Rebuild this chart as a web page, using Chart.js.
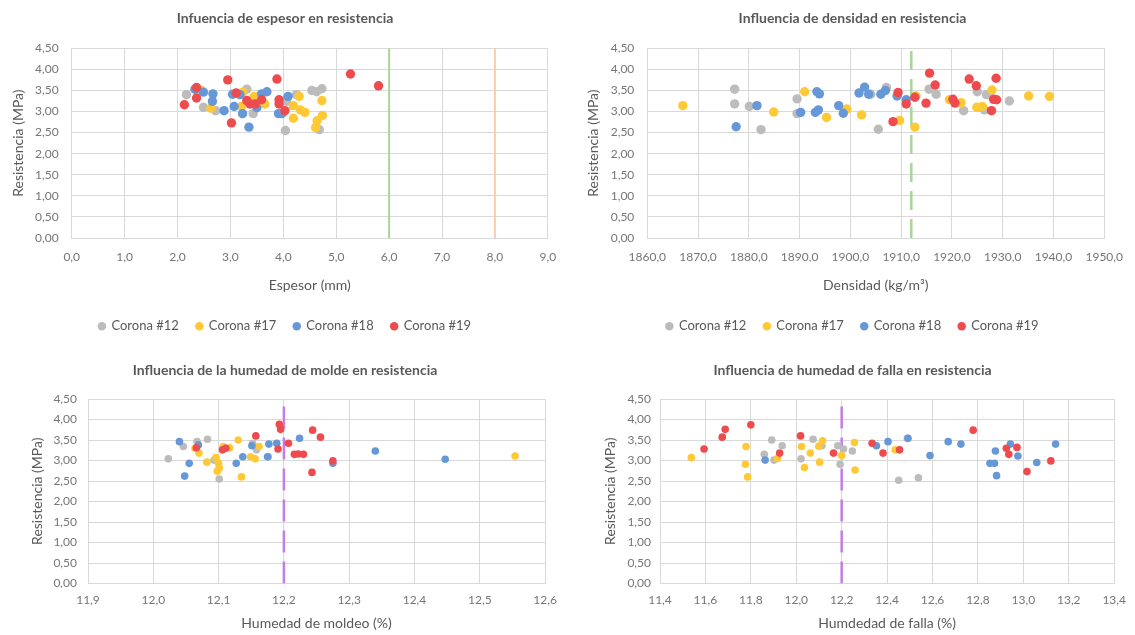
<!DOCTYPE html>
<html lang="es">
<head>
<meta charset="utf-8">
<title>Resistencia de coronas</title>
<script src="https://cdn.jsdelivr.net/npm/chart.js@4.4.1/dist/chart.umd.min.js"></script>
<style>
  html, body { margin: 0; padding: 0; background: #ffffff; }
  body { position: relative; width: 1135px; height: 635px; overflow: hidden; }
  canvas { position: absolute; display: block; }
</style>
</head>
<body>
<canvas id="chartEspesor"  width="570" height="345" style="left:0;top:0"></canvas>
<canvas id="chartDensidad" width="565" height="345" style="left:570px;top:0"></canvas>
<canvas id="chartMoldeo"   width="570" height="290" style="left:0;top:345px"></canvas>
<canvas id="chartFalla"    width="565" height="290" style="left:570px;top:345px"></canvas>
<script>
// ---- Series and axes ----
const seriesNames = ['Corona #12', 'Corona #17', 'Corona #18', 'Corona #19'];
const resistTicks = [0, 0.5, 1, 1.5, 2, 2.5, 3, 3.5, 4, 4.5];

// Espesor (mm) vs resistencia (MPa): [x, y]
const espesorTicks = [0, 1, 2, 3, 4, 5, 6, 7, 8, 9];
const espesorRefs = [6.0, 8.0];
const espesor12 = [[2.17,3.40],[2.49,3.10],[2.72,3.02],[3.31,3.53],[3.43,2.95],[4.04,2.55],[4.06,3.24],[4.25,3.40],[4.54,3.50],[4.63,3.47],[4.73,3.54],[4.68,2.57]];
const espesor17 = [[2.45,3.50],[2.63,3.08],[3.21,3.12],[3.23,3.46],[3.45,3.36],[3.65,3.18],[4.19,3.14],[4.19,2.84],[4.30,3.36],[4.32,3.04],[4.41,2.98],[4.61,2.62],[4.64,2.78],[4.73,3.26],[4.74,2.91]];
const espesor18 = [[2.33,3.53],[2.49,3.46],[2.66,3.24],[2.67,3.42],[2.88,3.02],[3.04,3.41],[3.07,3.12],[3.18,3.40],[3.23,2.95],[3.35,2.63],[3.50,3.09],[3.59,3.42],[3.69,3.47],[3.91,2.95],[3.97,2.95],[4.09,3.36]];
const espesor19 = [[2.13,3.16],[2.36,3.57],[2.36,3.32],[2.95,3.75],[3.02,2.73],[3.11,3.44],[3.31,3.26],[3.37,3.18],[3.47,3.18],[3.59,3.28],[3.88,3.77],[3.92,3.28],[3.92,3.18],[4.03,3.02],[5.27,3.89],[5.80,3.61]];

// Densidad (kg/m3) vs resistencia (MPa)
const densidadTicks = [1860, 1870, 1880, 1890, 1900, 1910, 1920, 1930, 1940, 1950];
const densidadRef = 1912;
const densidad12 = [[1877.2,3.53],[1877.2,3.18],[1880.1,3.12],[1882.4,2.57],[1889.5,3.30],[1889.5,2.95],[1904.0,3.41],[1905.5,2.58],[1907.1,3.57],[1915.5,3.53],[1916.9,3.41],[1922.3,3.02],[1925.0,3.47],[1926.4,3.04],[1926.8,3.40],[1931.3,3.25]];
const densidad17 = [[1867.0,3.14],[1884.9,2.99],[1891.0,3.47],[1895.3,2.86],[1899.3,3.06],[1902.2,2.92],[1909.7,2.79],[1912.7,2.63],[1912.9,3.37],[1919.5,3.28],[1921.8,3.21],[1924.9,3.10],[1926.0,3.12],[1927.9,3.51],[1935.1,3.37],[1939.2,3.36]];
const densidad18 = [[1877.5,2.64],[1881.6,3.14],[1890.2,2.98],[1893.1,2.98],[1893.4,3.47],[1893.7,3.04],[1893.9,3.42],[1897.7,3.14],[1898.6,2.96],[1901.7,3.44],[1902.8,3.58],[1903.6,3.41],[1906.0,3.41],[1906.9,3.50],[1909.2,3.37],[1911.0,3.28]];
const densidad19 = [[1908.4,2.76],[1909.4,3.45],[1911.0,3.18],[1912.7,3.34],[1914.9,3.20],[1915.6,3.91],[1916.7,3.63],[1920.2,3.29],[1920.6,3.20],[1923.4,3.77],[1924.8,3.61],[1927.8,3.02],[1928.2,3.29],[1928.7,3.79],[1928.8,3.28]];

// Humedad de moldeo (%) vs resistencia (MPa)
const moldeoTicks = [11.9, 12.0, 12.1, 12.2, 12.3, 12.4, 12.5, 12.6];
const humedadRef = 12.2;
const moldeo12 = [[12.023,3.04],[12.046,3.34],[12.067,3.46],[12.083,3.52],[12.093,3.01],[12.101,2.55],[12.152,3.42],[12.158,3.26],[12.176,3.09]];
const moldeo17 = [[12.064,3.30],[12.070,3.18],[12.082,2.96],[12.096,3.07],[12.098,2.74],[12.100,2.93],[12.101,2.82],[12.107,3.34],[12.117,3.31],[12.130,3.50],[12.135,2.60],[12.149,3.09],[12.156,3.04],[12.162,3.34],[12.554,3.11]];
const moldeo18 = [[12.040,3.46],[12.048,2.62],[12.055,2.93],[12.069,3.38],[12.127,2.93],[12.137,3.09],[12.151,3.36],[12.175,3.09],[12.177,3.40],[12.189,3.42],[12.224,3.54],[12.275,2.93],[12.340,3.23],[12.447,3.03]];
const moldeo19 = [[12.066,3.31],[12.106,3.26],[12.111,3.30],[12.157,3.60],[12.191,3.28],[12.193,3.88],[12.195,3.76],[12.207,3.42],[12.216,3.15],[12.222,3.16],[12.230,3.15],[12.243,2.71],[12.244,3.74],[12.256,3.57],[12.275,2.99]];

// Humedad de falla (%) vs resistencia (MPa)
const fallaTicks = [11.4, 11.6, 11.8, 12.0, 12.2, 12.4, 12.6, 12.8, 13.0, 13.2, 13.4];
const falla12 = [[11.859,3.15],[11.892,3.50],[11.902,3.01],[11.938,3.36],[12.021,3.04],[12.074,3.52],[12.113,3.36],[12.183,3.36],[12.193,2.91],[12.208,3.28],[12.247,3.23],[12.451,2.52],[12.489,3.54],[12.538,2.58]];
const falla17 = [[11.538,3.07],[11.776,2.91],[11.779,3.34],[11.786,2.60],[11.917,3.05],[12.023,3.34],[12.036,2.83],[12.062,3.18],[12.099,3.35],[12.103,2.96],[12.116,3.48],[12.200,3.12],[12.256,3.44],[12.259,2.77],[12.436,3.26]];
const falla18 = [[11.863,3.01],[12.353,3.36],[12.404,3.46],[12.492,3.54],[12.589,3.12],[12.669,3.46],[12.725,3.40],[12.853,2.93],[12.873,2.93],[12.877,3.23],[12.882,2.63],[12.943,3.40],[12.976,3.11],[13.059,2.95],[13.142,3.40]];
const falla19 = [[11.594,3.28],[11.674,3.57],[11.687,3.76],[11.800,3.87],[11.927,3.18],[12.019,3.60],[12.164,3.18],[12.334,3.42],[12.382,3.18],[12.455,3.26],[12.779,3.74],[12.925,3.30],[12.936,3.15],[12.972,3.32],[13.016,2.73],[13.121,2.99]];

// ---- Styling ----
const FONT = 'Lato, "Open Sans", sans-serif';
const seriesColors = ['#BCBCBC', '#FFC936', '#6698D8', '#EE4B4F'];
const GRID = '#D9D9D9';
const TICK_COLOR = '#767676';
const TEXT_COLOR = '#595959';

const toPoints = pairs => pairs.map(([x, y]) => ({ x, y }));
const comma = (v, d) => Number(v).toFixed(d).replace('.', ',');
const fixedTicks = arr => scale => { scale.ticks = arr.map(v => ({ value: v })); };

function buildChart(id, o) {
  const datasets = o.series.map((pairs, i) => ({
    label: seriesNames[i],
    data: toPoints(pairs),
    backgroundColor: seriesColors[i],
    borderColor: seriesColors[i],
    pointStyle: 'circle',
    pointRadius: o.radius,
    pointHoverRadius: o.radius,
    pointBorderWidth: 0,
    borderWidth: 0,
    order: 4 - i            // later series are painted on top
  }));
  // vertical reference lines spanning the resistance axis
  o.refs.forEach(r => datasets.push({
    label: '',
    data: [{ x: r.x, y: resistTicks[0] }, { x: r.x, y: resistTicks[resistTicks.length - 1] }],
    showLine: true,
    borderColor: r.color,
    borderWidth: r.width,
    borderDash: r.dash || [],
    pointRadius: 0,
    pointHoverRadius: 0,
    fill: false,
    order: 10
  }));

  return new Chart(document.getElementById(id), {
    type: 'scatter',
    data: { datasets },
    options: {
      responsive: false,
      animation: false,
      devicePixelRatio: 1,
      events: [],
      layout: { padding: { left: 0, right: 0, top: 0, bottom: o.padBottom } },
      plugins: {
        title: {
          display: true, text: o.title, color: TEXT_COLOR,
          font: { family: FONT, size: 14, weight: 'bold' },
          padding: { top: o.titleTop, bottom: o.titleBottom }
        },
        legend: {
          display: o.legend, position: 'bottom',
          labels: {
            usePointStyle: true, pointStyle: 'circle',
            boxWidth: 6, boxHeight: 6, padding: 17.5,
            color: TEXT_COLOR, font: { family: FONT, size: 13 },
            filter: item => item.datasetIndex < seriesNames.length,
            sort: (a, b) => a.datasetIndex - b.datasetIndex
          }
        },
        tooltip: { enabled: false }
      },
      scales: {
        x: {
          type: 'linear', position: 'bottom',
          min: o.xTicks[0], max: o.xTicks[o.xTicks.length - 1],
          afterBuildTicks: fixedTicks(o.xTicks),
          afterFit: s => { s.height = o.xH; },
          grid: { color: GRID, lineWidth: 1, drawTicks: false },
          border: { color: GRID, width: 1 },
          ticks: {
            callback: v => comma(v, 1), padding: o.xTickPad, color: TICK_COLOR,
            font: { family: FONT, size: 12 }, maxRotation: 0, autoSkip: false
          },
          title: {
            display: true, text: o.xTitle, color: TEXT_COLOR,
            font: { family: FONT, size: 14 }, padding: { top: 0, bottom: o.xTitlePad }
          }
        },
        y: {
          type: 'linear', position: 'left',
          min: resistTicks[0], max: resistTicks[resistTicks.length - 1],
          afterBuildTicks: fixedTicks(resistTicks),
          afterFit: s => { s.width = o.yW; },
          grid: { color: GRID, lineWidth: 1, drawTicks: false },
          border: { color: GRID, width: 1 },
          ticks: {
            callback: v => comma(v, 2), padding: o.yTickPad, color: TICK_COLOR,
            font: { family: FONT, size: 12 }, autoSkip: false
          },
          title: {
            display: true, text: 'Resistencia (MPa)', color: TEXT_COLOR,
            font: { family: FONT, size: 14 }, padding: { top: o.yTitlePad, bottom: 0 }
          }
        },
        // empty right-hand margin so the frame stays centred on the whole canvas
        margen: {
          type: 'linear', position: 'right', display: true,
          grid: { display: false, drawTicks: false },
          border: { display: false },
          ticks: { display: false },
          afterFit: s => { s.width = o.rW; }
        }
      }
    }
  });
}

const GREEN = '#A9D59A';
const PEACH = '#F9CDAE';
const VIOLET = '#C47DE2';

buildChart('chartEspesor', {
  title: 'Infuencia de espesor en resistencia', xTitle: 'Espesor (mm)',
  xTicks: espesorTicks, series: [espesor12, espesor17, espesor18, espesor19],
  refs: [
    { x: espesorRefs[0], color: GREEN, width: 2 },
    { x: espesorRefs[1], color: PEACH, width: 2 }
  ],
  radius: 4.7, legend: true,
  titleTop: 9.6, titleBottom: 21.9, yW: 71.7, rW: 22.2, xH: 64.2, padBottom: 2.3,
  xTickPad: 12, xTitlePad: 8.6, yTickPad: 13, yTitlePad: 9.6
});

buildChart('chartDensidad', {
  title: 'Influencia de densidad en resistencia', xTitle: 'Densidad (kg/m³)',
  xTicks: densidadTicks, series: [densidad12, densidad17, densidad18, densidad19],
  refs: [{ x: densidadRef, color: GREEN, width: 2.5, dash: [19, 9] }],
  radius: 4.7, legend: true,
  titleTop: 9.6, titleBottom: 21.9, yW: 77.3, rW: 22.4, xH: 64.2, padBottom: 2.3,
  xTickPad: 12, xTitlePad: 8.6, yTickPad: 13, yTitlePad: 14.6
});

buildChart('chartMoldeo', {
  title: 'Influencia de la humedad de molde en resistencia', xTitle: 'Humedad de moldeo (%)',
  xTicks: moldeoTicks, series: [moldeo12, moldeo17, moldeo18, moldeo19],
  refs: [{ x: humedadRef, color: VIOLET, width: 2.5, dash: [22, 9] }],
  radius: 3.8, legend: false,
  titleTop: 16.6, titleBottom: 20.6, yW: 88, rW: 24.9, xH: 51.5, padBottom: 0,
  xTickPad: 9, xTitlePad: 3.6, yTickPad: 11, yTitlePad: 28.6
});

buildChart('chartFalla', {
  title: 'Influencia de humedad de falla en resistencia', xTitle: 'Humdedad de falla (%)',
  xTicks: fallaTicks, series: [falla12, falla17, falla18, falla19],
  refs: [{ x: humedadRef, color: VIOLET, width: 2.5, dash: [22, 9] }],
  radius: 3.8, legend: false,
  titleTop: 16.6, titleBottom: 20.6, yW: 90, rW: 17, xH: 51.5, padBottom: 0,
  xTickPad: 9, xTitlePad: 3.6, yTickPad: 9, yTitlePad: 31.6
});
</script>
</body>
</html>
